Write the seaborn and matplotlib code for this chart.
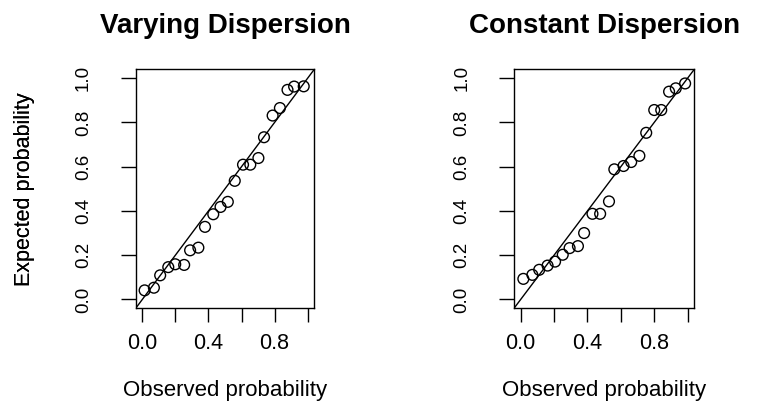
import matplotlib
matplotlib.use("Agg")
import matplotlib.pyplot as plt
import seaborn as sns
import numpy as np

# observed / expected probabilities
obs_varying = [0.014, 0.07, 0.108, 0.157, 0.199, 0.253, 0.289, 0.339, 0.379, 0.429, 0.473,
               0.517, 0.559, 0.609, 0.653, 0.702, 0.736, 0.788, 0.832, 0.878, 0.918, 0.976]
exp_varying = [0.041, 0.053, 0.109, 0.146, 0.159, 0.156, 0.222, 0.234, 0.328, 0.385, 0.418,
               0.441, 0.536, 0.609, 0.609, 0.639, 0.733, 0.831, 0.865, 0.947, 0.962, 0.963]

obs_constant = [0.016, 0.07, 0.111, 0.161, 0.206, 0.252, 0.293, 0.343, 0.38, 0.43, 0.476,
                0.529, 0.561, 0.616, 0.662, 0.711, 0.752, 0.8, 0.842, 0.889, 0.929, 0.985]
exp_constant = [0.093, 0.111, 0.134, 0.153, 0.171, 0.202, 0.232, 0.241, 0.3, 0.387, 0.387,
                0.443, 0.588, 0.603, 0.621, 0.649, 0.753, 0.856, 0.856, 0.939, 0.954, 0.976]

titles = ["Varying Dispersion", "Constant Dispersion"]
tick_vals = [0.0, 0.2, 0.4, 0.6, 0.8, 1.0]
x_tick_labels = ["0.0", "", "0.4", "", "0.8", ""]
y_tick_labels = ["0.0", "0.2", "0.4", "0.6", "0.8", "1.0"]

sns.set_style("white")
plt.rcParams['font.family'] = ['Liberation Sans', 'DejaVu Sans']
plt.rcParams['text.color'] = 'black'
plt.rcParams['axes.labelcolor'] = 'black'
plt.rcParams['xtick.color'] = 'black'
plt.rcParams['ytick.color'] = 'black'

fig = plt.figure(figsize=(7.65, 4.03), dpi=100)
W, H = 765, 403
boxes = [(135.7, 314.3), (514.0, 694.3)]
top, bottom = 69.3, 308.3

panels = [(obs_varying, exp_varying), (obs_constant, exp_constant)]

for (x0, x1), (obs, exp), title in zip(boxes, panels, titles):
    ax = fig.add_axes([x0 / W, (H - bottom) / H, (x1 - x0) / W, (bottom - top) / H])
    ax.axline((0, 0), slope=1, color="black", lw=1)
    sns.scatterplot(x=obs, y=exp, ax=ax, s=60, marker="o", facecolor="none",
                    edgecolor="black", linewidth=1, zorder=3)
    ax.set_xlim(-0.04, 1.04)
    ax.set_ylim(-0.04, 1.04)
    ax.set_xticks(tick_vals)
    ax.set_xticklabels(x_tick_labels, fontsize=15.5)
    ax.set_yticks(tick_vals)
    ax.set_yticklabels(y_tick_labels, fontsize=13.5)
    ax.tick_params(axis="x", bottom=True, length=10, width=1, pad=8, direction="out")
    ax.tick_params(axis="y", left=True, length=10.5, width=1, pad=21,
                   direction="out", labelrotation=90)
    for lab in ax.get_yticklabels():
        lab.set_va("center")
    for sp in ax.spines.values():
        sp.set_color("black")
        sp.set_linewidth(1)
    ax.set_title(title, fontsize=20, fontweight="bold", pad=26)
    ax.set_xlabel("Observed probability", fontsize=16, va="top")
    ax.set_ylabel("Expected probability", fontsize=15.5, va="top")
    ax.xaxis.set_label_coords(0.5, -(380 - bottom) / (bottom - top))
    ax.yaxis.set_label_coords((14 - x0) / (x1 - x0), 0.5)

fig.savefig("out.png", dpi=100)
